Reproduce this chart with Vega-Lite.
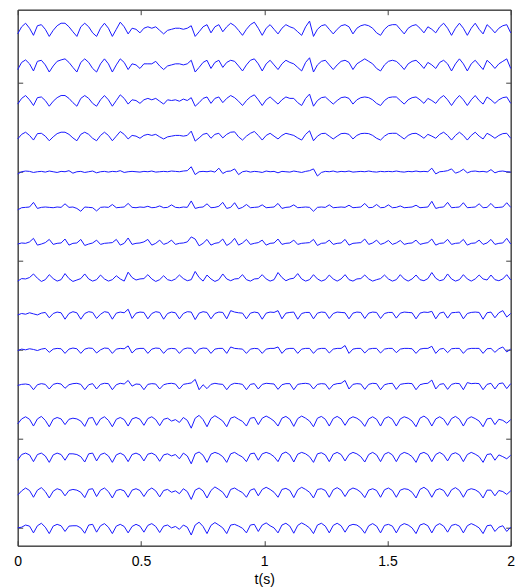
{"$schema":"https://vega.github.io/schema/vega-lite/v6.json","width":493,"height":536,"autosize":{"type":"none"},"padding":{"left":17.7,"top":9.7,"right":4.3,"bottom":42.3},
"config":{"view":{"stroke":"#404040","strokeWidth":1},"axis":{"domainColor":"#404040","tickColor":"#404040","grid":false,"labelFont":"Liberation Sans Narrow, Liberation Sans, sans-serif","titleFont":"Liberation Sans Narrow, Liberation Sans, sans-serif","labelFontSize":14,"titleFontSize":14,"labelColor":"#000","titleColor":"#000","titleFontWeight":"normal"}},
"data":{"values":[
{"t":0,"a":1437,"b":1337,"c":1240,"d":1142,"e":1044,"f":943,"g":847,"h":743,"i":648,"j":548,"k":450,"l":342,"m":240,"n":142,"o":50},
{"t":0.016,"a":1457,"b":1357,"c":1256,"d":1155,"e":1050,"f":949,"g":850,"h":750,"i":652,"j":552,"k":453,"l":356,"m":256,"n":154,"o":52},
{"t":0.032,"a":1467,"b":1364,"c":1264,"d":1161,"e":1052,"f":950,"g":849,"h":749,"i":650,"j":550,"k":454,"l":362,"m":260,"n":162,"o":58},
{"t":0.048,"a":1453,"b":1353,"c":1252,"d":1152,"e":1051,"f":951,"g":853,"h":753,"i":654,"j":553,"k":452,"l":355,"m":255,"n":155,"o":55},
{"t":0.064,"a":1433,"b":1333,"c":1236,"d":1139,"e":1048,"f":964,"g":863,"h":763,"i":651,"j":551,"k":438,"l":336,"m":236,"n":136,"o":36},
{"t":0.08,"a":1460,"b":1360,"c":1258,"d":1157,"e":1050,"f":947,"g":844,"h":751,"i":648,"j":548,"k":452,"l":356,"m":256,"n":156,"o":56},
{"t":0.096,"a":1463,"b":1363,"c":1260,"d":1158,"e":1051,"f":950,"g":847,"h":742,"i":653,"j":552,"k":455,"l":363,"m":260,"n":163,"o":63},
{"t":0.112,"a":1450,"b":1350,"c":1250,"d":1150,"e":1049,"f":951,"g":851,"h":747,"i":655,"j":554,"k":453,"l":352,"m":252,"n":152,"o":52},
{"t":0.128,"a":1430,"b":1330,"c":1234,"d":1137,"e":1052,"f":950,"g":860,"h":761,"i":640,"j":543,"k":440,"l":334,"m":234,"n":134,"o":34},
{"t":0.144,"a":1447,"b":1347,"c":1248,"d":1148,"e":1050,"f":949,"g":846,"h":750,"i":652,"j":552,"k":453,"l":355,"m":255,"n":153,"o":55},
{"t":0.16,"a":1460,"b":1360,"c":1258,"d":1157,"e":1048,"f":951,"g":849,"h":743,"i":656,"j":554,"k":456,"l":360,"m":260,"n":160,"o":60},
{"t":0.176,"a":1467,"b":1364,"c":1264,"d":1161,"e":1051,"f":950,"g":850,"h":747,"i":654,"j":553,"k":454,"l":356,"m":256,"n":156,"o":56},
{"t":0.192,"a":1467,"b":1367,"c":1264,"d":1161,"e":1050,"f":960,"g":861,"h":764,"i":636,"j":540,"k":442,"l":340,"m":240,"n":140,"o":40},
{"t":0.208,"a":1457,"b":1357,"c":1256,"d":1155,"e":1053,"f":950,"g":844,"h":750,"i":652,"j":552,"k":452,"l":355,"m":258,"n":155,"o":55},
{"t":0.224,"a":1443,"b":1343,"c":1244,"d":1145,"e":1046,"f":951,"g":849,"h":742,"i":657,"j":555,"k":455,"l":358,"m":258,"n":158,"o":56},
{"t":0.24,"a":1430,"b":1330,"c":1234,"d":1137,"e":1050,"f":947,"g":850,"h":746,"i":654,"j":553,"k":456,"l":356,"m":256,"n":156,"o":56},
{"t":0.256,"a":1457,"b":1357,"c":1256,"d":1155,"e":1051,"f":939,"g":860,"h":750,"i":636,"j":540,"k":453,"l":350,"m":250,"n":150,"o":50},
{"t":0.272,"a":1467,"b":1367,"c":1264,"d":1161,"e":1048,"f":951,"g":843,"h":763,"i":652,"j":552,"k":438,"l":335,"m":235,"n":135,"o":35},
{"t":0.288,"a":1457,"b":1357,"c":1256,"d":1155,"e":1050,"f":950,"g":847,"h":749,"i":657,"j":555,"k":452,"l":358,"m":258,"n":158,"o":58},
{"t":0.304,"a":1440,"b":1340,"c":1242,"d":1144,"e":1052,"f":949,"g":850,"h":743,"i":655,"j":554,"k":455,"l":360,"m":260,"n":160,"o":60},
{"t":0.32,"a":1430,"b":1330,"c":1234,"d":1137,"e":1047,"f":940,"g":858,"h":747,"i":638,"j":541,"k":440,"l":338,"m":238,"n":138,"o":38},
{"t":0.336,"a":1453,"b":1353,"c":1252,"d":1152,"e":1050,"f":950,"g":846,"h":760,"i":650,"j":550,"k":453,"l":356,"m":256,"n":156,"o":56},
{"t":0.352,"a":1467,"b":1367,"c":1264,"d":1161,"e":1051,"f":951,"g":849,"h":749,"i":657,"j":555,"k":456,"l":362,"m":260,"n":162,"o":62},
{"t":0.368,"a":1453,"b":1353,"c":1252,"d":1152,"e":1049,"f":950,"g":850,"h":743,"i":655,"j":554,"k":455,"l":352,"m":252,"n":152,"o":52},
{"t":0.384,"a":1430,"b":1330,"c":1234,"d":1137,"e":1051,"f":958,"g":851,"h":747,"i":636,"j":540,"k":438,"l":334,"m":234,"n":134,"o":34},
{"t":0.4,"a":1450,"b":1350,"c":1250,"d":1150,"e":1050,"f":949,"g":860,"h":758,"i":653,"j":552,"k":452,"l":355,"m":255,"n":155,"o":55},
{"t":0.416,"a":1470,"b":1367,"c":1266,"d":1163,"e":1053,"f":950,"g":844,"h":749,"i":656,"j":554,"k":456,"l":360,"m":260,"n":158,"o":60},
{"t":0.432,"a":1457,"b":1357,"c":1256,"d":1155,"e":1048,"f":951,"g":849,"h":743,"i":654,"j":553,"k":454,"l":354,"m":254,"n":154,"o":54},
{"t":0.448,"a":1437,"b":1337,"c":1240,"d":1142,"e":1050,"f":961,"g":864,"h":768,"i":664,"j":561,"k":464,"l":336,"m":236,"n":136,"o":36},
{"t":0.464,"a":1453,"b":1353,"c":1252,"d":1152,"e":1051,"f":950,"g":846,"h":753,"i":638,"j":541,"k":448,"l":356,"m":256,"n":156,"o":54},
{"t":0.48,"a":1450,"b":1350,"c":1250,"d":1150,"e":1050,"f":949,"g":849,"h":746,"i":653,"j":552,"k":454,"l":360,"m":260,"n":160,"o":60},
{"t":0.496,"a":1440,"b":1340,"c":1242,"d":1144,"e":1049,"f":951,"g":850,"h":749,"i":656,"j":554,"k":453,"l":355,"m":255,"n":155,"o":55},
{"t":0.512,"a":1453,"b":1353,"c":1252,"d":1152,"e":1051,"f":950,"g":853,"h":750,"i":655,"j":554,"k":438,"l":338,"m":238,"n":138,"o":38},
{"t":0.528,"a":1457,"b":1353,"c":1256,"d":1155,"e":1050,"f":953,"g":860,"h":761,"i":637,"j":540,"k":453,"l":357,"m":257,"n":155,"o":57},
{"t":0.544,"a":1453,"b":1353,"c":1252,"d":1152,"e":1052,"f":949,"g":844,"h":749,"i":652,"j":552,"k":455,"l":362,"m":260,"n":162,"o":62},
{"t":0.56,"a":1457,"b":1360,"c":1256,"d":1155,"e":1049,"f":950,"g":849,"h":742,"i":657,"j":555,"k":454,"l":354,"m":254,"n":154,"o":54},
{"t":0.576,"a":1447,"b":1347,"c":1248,"d":1148,"e":1050,"f":954,"g":858,"h":747,"i":655,"j":554,"k":440,"l":337,"m":237,"n":137,"o":37},
{"t":0.592,"a":1437,"b":1337,"c":1240,"d":1142,"e":1051,"f":949,"g":846,"h":758,"i":636,"j":540,"k":452,"l":355,"m":255,"n":155,"o":55},
{"t":0.608,"a":1447,"b":1347,"c":1252,"d":1148,"e":1050,"f":950,"g":850,"h":747,"i":652,"j":552,"k":455,"l":358,"m":258,"n":158,"o":58},
{"t":0.624,"a":1450,"b":1350,"c":1250,"d":1150,"e":1052,"f":957,"g":858,"h":744,"i":656,"j":554,"k":456,"l":350,"m":252,"n":150,"o":50},
{"t":0.64,"a":1453,"b":1353,"c":1252,"d":1152,"e":1051,"f":950,"g":846,"h":749,"i":654,"j":553,"k":454,"l":354,"m":256,"n":154,"o":54},
{"t":0.656,"a":1453,"b":1353,"c":1248,"d":1152,"e":1050,"f":949,"g":849,"h":760,"i":637,"j":540,"k":440,"l":346,"m":244,"n":146,"o":46},
{"t":0.672,"a":1450,"b":1350,"c":1254,"d":1150,"e":1052,"f":951,"g":850,"h":750,"i":652,"j":552,"k":453,"l":360,"m":260,"n":160,"o":58},
{"t":0.688,"a":1453,"b":1353,"c":1250,"d":1152,"e":1053,"f":950,"g":853,"h":744,"i":657,"j":555,"k":455,"l":352,"m":252,"n":152,"o":52},
{"t":0.704,"a":1460,"b":1363,"c":1258,"d":1164,"e":1064,"f":968,"g":867,"h":747,"i":656,"j":554,"k":457,"l":330,"m":230,"n":130,"o":30},
{"t":0.72,"a":1430,"b":1330,"c":1234,"d":1136,"e":1042,"f":947,"g":861,"h":770,"i":635,"j":539,"k":467,"l":358,"m":258,"n":156,"o":58},
{"t":0.736,"a":1443,"b":1343,"c":1244,"d":1145,"e":1050,"f":950,"g":842,"h":753,"i":653,"j":552,"k":438,"l":366,"m":263,"n":162,"o":66},
{"t":0.752,"a":1457,"b":1357,"c":1256,"d":1155,"e":1051,"f":951,"g":849,"h":743,"i":657,"j":555,"k":452,"l":354,"m":254,"n":154,"o":54},
{"t":0.768,"a":1463,"b":1363,"c":1260,"d":1158,"e":1050,"f":960,"g":860,"h":760,"i":655,"j":554,"k":441,"l":334,"m":234,"n":134,"o":34},
{"t":0.784,"a":1440,"b":1340,"c":1242,"d":1144,"e":1052,"f":949,"g":844,"h":749,"i":637,"j":540,"k":453,"l":357,"m":257,"n":155,"o":57},
{"t":0.8,"a":1457,"b":1357,"c":1256,"d":1155,"e":1049,"f":950,"g":849,"h":742,"i":652,"j":552,"k":456,"l":365,"m":262,"n":165,"o":65},
{"t":0.816,"a":1463,"b":1363,"c":1260,"d":1158,"e":1060,"f":953,"g":851,"h":747,"i":656,"j":554,"k":454,"l":358,"m":258,"n":158,"o":58},
{"t":0.832,"a":1443,"b":1343,"c":1244,"d":1145,"e":1045,"f":964,"g":861,"h":763,"i":655,"j":554,"k":453,"l":350,"m":250,"n":150,"o":50},
{"t":0.848,"a":1457,"b":1357,"c":1256,"d":1155,"e":1051,"f":947,"g":843,"h":749,"i":637,"j":540,"k":438,"l":334,"m":234,"n":134,"o":34},
{"t":0.864,"a":1467,"b":1363,"c":1264,"d":1161,"e":1052,"f":950,"g":850,"h":744,"i":660,"j":558,"k":452,"l":358,"m":258,"n":158,"o":58},
{"t":0.88,"a":1460,"b":1360,"c":1258,"d":1162,"e":1058,"f":963,"g":863,"h":749,"i":656,"j":554,"k":456,"l":362,"m":262,"n":162,"o":60},
{"t":0.896,"a":1447,"b":1347,"c":1248,"d":1148,"e":1042,"f":946,"g":844,"h":750,"i":654,"j":553,"k":455,"l":355,"m":255,"n":155,"o":55},
{"t":0.912,"a":1433,"b":1333,"c":1236,"d":1139,"e":1050,"f":950,"g":850,"h":761,"i":653,"j":552,"k":453,"l":349,"m":249,"n":149,"o":49},
{"t":0.928,"a":1450,"b":1350,"c":1250,"d":1150,"e":1052,"f":958,"g":860,"h":747,"i":637,"j":540,"k":438,"l":336,"m":236,"n":136,"o":36},
{"t":0.944,"a":1463,"b":1363,"c":1260,"d":1158,"e":1049,"f":949,"g":846,"h":743,"i":653,"j":552,"k":453,"l":358,"m":258,"n":156,"o":58},
{"t":0.96,"a":1470,"b":1367,"c":1266,"d":1163,"e":1051,"f":950,"g":849,"h":749,"i":656,"j":554,"k":455,"l":360,"m":260,"n":160,"o":60},
{"t":0.976,"a":1453,"b":1353,"c":1252,"d":1152,"e":1050,"f":951,"g":851,"h":750,"i":654,"j":553,"k":440,"l":340,"m":240,"n":140,"o":40},
{"t":0.992,"a":1433,"b":1333,"c":1236,"d":1139,"e":1048,"f":957,"g":858,"h":761,"i":636,"j":540,"k":453,"l":358,"m":258,"n":158,"o":58},
{"t":1.008,"a":1453,"b":1353,"c":1252,"d":1152,"e":1052,"f":949,"g":844,"h":749,"i":653,"j":552,"k":456,"l":364,"m":262,"n":164,"o":64},
{"t":1.024,"a":1463,"b":1363,"c":1260,"d":1158,"e":1050,"f":950,"g":849,"h":743,"i":656,"j":554,"k":455,"l":358,"m":258,"n":158,"o":56},
{"t":1.04,"a":1450,"b":1350,"c":1250,"d":1150,"e":1051,"f":951,"g":850,"h":747,"i":655,"j":554,"k":454,"l":350,"m":250,"n":150,"o":50},
{"t":1.056,"a":1437,"b":1337,"c":1240,"d":1142,"e":1047,"f":961,"g":861,"h":767,"i":660,"j":558,"k":439,"l":336,"m":236,"n":136,"o":36},
{"t":1.072,"a":1453,"b":1353,"c":1252,"d":1152,"e":1051,"f":947,"g":846,"h":753,"i":637,"j":540,"k":452,"l":358,"m":258,"n":158,"o":58},
{"t":1.088,"a":1463,"b":1363,"c":1260,"d":1158,"e":1050,"f":950,"g":849,"h":744,"i":653,"j":552,"k":455,"l":363,"m":263,"n":161,"o":63},
{"t":1.104,"a":1457,"b":1357,"c":1256,"d":1155,"e":1049,"f":951,"g":850,"h":749,"i":655,"j":554,"k":455,"l":355,"m":255,"n":155,"o":55},
{"t":1.12,"a":1453,"b":1353,"c":1256,"d":1152,"e":1052,"f":957,"g":858,"h":751,"i":656,"j":554,"k":438,"l":335,"m":235,"n":135,"o":35},
{"t":1.136,"a":1443,"b":1343,"c":1244,"d":1145,"e":1050,"f":949,"g":846,"h":764,"i":636,"j":540,"k":453,"l":357,"m":257,"n":157,"o":57},
{"t":1.152,"a":1433,"b":1333,"c":1236,"d":1139,"e":1048,"f":950,"g":849,"h":749,"i":652,"j":552,"k":455,"l":364,"m":262,"n":164,"o":64},
{"t":1.168,"a":1457,"b":1357,"c":1256,"d":1155,"e":1051,"f":951,"g":850,"h":743,"i":655,"j":554,"k":456,"l":358,"m":258,"n":158,"o":58},
{"t":1.184,"a":1473,"b":1370,"c":1268,"d":1165,"e":1053,"f":950,"g":851,"h":747,"i":655,"j":554,"k":454,"l":350,"m":250,"n":150,"o":50},
{"t":1.2,"a":1430,"b":1330,"c":1234,"d":1137,"e":1058,"f":939,"g":860,"h":761,"i":637,"j":540,"k":440,"l":334,"m":234,"n":134,"o":34},
{"t":1.216,"a":1450,"b":1350,"c":1250,"d":1150,"e":1038,"f":950,"g":843,"h":749,"i":653,"j":552,"k":453,"l":358,"m":258,"n":158,"o":58},
{"t":1.232,"a":1460,"b":1360,"c":1258,"d":1157,"e":1048,"f":951,"g":849,"h":743,"i":656,"j":554,"k":455,"l":363,"m":261,"n":160,"o":63},
{"t":1.248,"a":1463,"b":1363,"c":1260,"d":1158,"e":1051,"f":950,"g":850,"h":747,"i":655,"j":554,"k":454,"l":355,"m":255,"n":155,"o":55},
{"t":1.264,"a":1450,"b":1350,"c":1250,"d":1150,"e":1050,"f":957,"g":858,"h":760,"i":638,"j":541,"k":439,"l":336,"m":236,"n":136,"o":36},
{"t":1.28,"a":1437,"b":1337,"c":1240,"d":1142,"e":1052,"f":949,"g":846,"h":749,"i":652,"j":552,"k":452,"l":357,"m":257,"n":157,"o":57},
{"t":1.296,"a":1450,"b":1350,"c":1250,"d":1150,"e":1049,"f":950,"g":849,"h":743,"i":656,"j":554,"k":455,"l":363,"m":262,"n":163,"o":63},
{"t":1.312,"a":1460,"b":1360,"c":1258,"d":1157,"e":1051,"f":951,"g":850,"h":749,"i":655,"j":554,"k":456,"l":356,"m":256,"n":156,"o":56},
{"t":1.328,"a":1463,"b":1363,"c":1260,"d":1158,"e":1050,"f":950,"g":860,"h":761,"i":654,"j":562,"k":464,"l":338,"m":238,"n":138,"o":38},
{"t":1.344,"a":1457,"b":1357,"c":1256,"d":1155,"e":1052,"f":956,"g":844,"h":747,"i":637,"j":540,"k":440,"l":356,"m":256,"n":156,"o":56},
{"t":1.36,"a":1437,"b":1337,"c":1240,"d":1142,"e":1049,"f":949,"g":849,"h":743,"i":653,"j":552,"k":453,"l":362,"m":262,"n":162,"o":60},
{"t":1.376,"a":1453,"b":1353,"c":1252,"d":1152,"e":1050,"f":950,"g":850,"h":749,"i":656,"j":554,"k":455,"l":358,"m":258,"n":158,"o":58},
{"t":1.392,"a":1460,"b":1360,"c":1258,"d":1157,"e":1051,"f":951,"g":851,"h":750,"i":655,"j":554,"k":454,"l":350,"m":250,"n":150,"o":50},
{"t":1.408,"a":1463,"b":1367,"c":1260,"d":1158,"e":1050,"f":961,"g":861,"h":760,"i":638,"j":541,"k":439,"l":335,"m":235,"n":135,"o":35},
{"t":1.424,"a":1460,"b":1360,"c":1258,"d":1157,"e":1052,"f":949,"g":846,"h":749,"i":653,"j":552,"k":453,"l":356,"m":256,"n":156,"o":56},
{"t":1.44,"a":1453,"b":1353,"c":1252,"d":1152,"e":1050,"f":950,"g":850,"h":743,"i":656,"j":554,"k":456,"l":362,"m":262,"n":160,"o":62},
{"t":1.456,"a":1440,"b":1340,"c":1242,"d":1144,"e":1049,"f":958,"g":858,"h":747,"i":655,"j":554,"k":455,"l":355,"m":255,"n":155,"o":55},
{"t":1.472,"a":1433,"b":1333,"c":1236,"d":1139,"e":1051,"f":949,"g":846,"h":750,"i":638,"j":541,"k":438,"l":336,"m":236,"n":136,"o":36},
{"t":1.488,"a":1450,"b":1350,"c":1250,"d":1150,"e":1050,"f":950,"g":850,"h":760,"i":652,"j":552,"k":452,"l":357,"m":257,"n":157,"o":57},
{"t":1.504,"a":1460,"b":1360,"c":1258,"d":1157,"e":1051,"f":957,"g":857,"h":749,"i":655,"j":554,"k":455,"l":362,"m":262,"n":162,"o":60},
{"t":1.52,"a":1463,"b":1363,"c":1260,"d":1158,"e":1050,"f":949,"g":846,"h":743,"i":655,"j":554,"k":456,"l":355,"m":255,"n":155,"o":55},
{"t":1.536,"a":1463,"b":1360,"c":1260,"d":1158,"e":1052,"f":950,"g":850,"h":747,"i":639,"j":542,"k":439,"l":336,"m":236,"n":136,"o":36},
{"t":1.552,"a":1450,"b":1350,"c":1250,"d":1150,"e":1050,"f":954,"g":857,"h":761,"i":653,"j":552,"k":453,"l":356,"m":256,"n":156,"o":56},
{"t":1.568,"a":1437,"b":1337,"c":1240,"d":1142,"e":1049,"f":949,"g":846,"h":749,"i":656,"j":554,"k":455,"l":362,"m":262,"n":160,"o":62},
{"t":1.584,"a":1453,"b":1353,"c":1252,"d":1152,"e":1051,"f":950,"g":849,"h":743,"i":655,"j":554,"k":456,"l":358,"m":258,"n":158,"o":58},
{"t":1.6,"a":1460,"b":1360,"c":1258,"d":1157,"e":1050,"f":951,"g":850,"h":749,"i":654,"j":553,"k":455,"l":350,"m":250,"n":150,"o":50},
{"t":1.616,"a":1463,"b":1363,"c":1260,"d":1158,"e":1052,"f":956,"g":858,"h":760,"i":637,"j":540,"k":438,"l":334,"m":234,"n":134,"o":34},
{"t":1.632,"a":1453,"b":1353,"c":1252,"d":1152,"e":1050,"f":949,"g":846,"h":747,"i":653,"j":552,"k":452,"l":358,"m":258,"n":158,"o":58},
{"t":1.648,"a":1440,"b":1340,"c":1242,"d":1144,"e":1051,"f":950,"g":849,"h":744,"i":656,"j":554,"k":455,"l":364,"m":262,"n":164,"o":62},
{"t":1.664,"a":1457,"b":1357,"c":1256,"d":1155,"e":1050,"f":951,"g":851,"h":750,"i":655,"j":554,"k":456,"l":356,"m":256,"n":156,"o":56},
{"t":1.68,"a":1450,"b":1350,"c":1250,"d":1150,"e":1060,"f":967,"g":861,"h":767,"i":658,"j":560,"k":465,"l":336,"m":236,"n":136,"o":36},
{"t":1.696,"a":1440,"b":1340,"c":1242,"d":1144,"e":1044,"f":947,"g":844,"h":751,"i":637,"j":540,"k":440,"l":356,"m":256,"n":156,"o":56},
{"t":1.712,"a":1457,"b":1357,"c":1256,"d":1155,"e":1050,"f":950,"g":849,"h":744,"i":653,"j":552,"k":453,"l":362,"m":262,"n":160,"o":62},
{"t":1.728,"a":1467,"b":1363,"c":1264,"d":1161,"e":1051,"f":951,"g":850,"h":747,"i":656,"j":554,"k":455,"l":355,"m":255,"n":155,"o":55},
{"t":1.744,"a":1453,"b":1353,"c":1252,"d":1152,"e":1053,"f":964,"g":860,"h":763,"i":639,"j":542,"k":439,"l":338,"m":238,"n":138,"o":38},
{"t":1.76,"a":1433,"b":1333,"c":1236,"d":1139,"e":1058,"f":949,"g":846,"h":749,"i":654,"j":553,"k":453,"l":357,"m":257,"n":157,"o":57},
{"t":1.776,"a":1453,"b":1353,"c":1252,"d":1152,"e":1046,"f":950,"g":849,"h":743,"i":655,"j":554,"k":456,"l":363,"m":261,"n":163,"o":60},
{"t":1.792,"a":1467,"b":1367,"c":1264,"d":1161,"e":1050,"f":951,"g":850,"h":747,"i":656,"j":554,"k":455,"l":355,"m":255,"n":155,"o":55},
{"t":1.808,"a":1453,"b":1353,"c":1252,"d":1152,"e":1057,"f":963,"g":860,"h":761,"i":637,"j":540,"k":438,"l":336,"m":236,"n":136,"o":36},
{"t":1.824,"a":1433,"b":1333,"c":1236,"d":1139,"e":1047,"f":949,"g":844,"h":749,"i":652,"j":552,"k":458,"l":356,"m":256,"n":156,"o":56},
{"t":1.84,"a":1453,"b":1353,"c":1252,"d":1152,"e":1051,"f":950,"g":849,"h":743,"i":655,"j":554,"k":455,"l":362,"m":262,"n":160,"o":62},
{"t":1.856,"a":1467,"b":1363,"c":1264,"d":1161,"e":1052,"f":951,"g":850,"h":749,"i":656,"j":554,"k":456,"l":357,"m":257,"n":157,"o":57},
{"t":1.872,"a":1450,"b":1350,"c":1250,"d":1150,"e":1050,"f":960,"g":858,"h":760,"i":655,"j":554,"k":455,"l":350,"m":250,"n":150,"o":50},
{"t":1.888,"a":1437,"b":1337,"c":1240,"d":1142,"e":1051,"f":949,"g":846,"h":749,"i":636,"j":540,"k":438,"l":334,"m":234,"n":134,"o":34},
{"t":1.904,"a":1463,"b":1363,"c":1260,"d":1158,"e":1049,"f":950,"g":850,"h":746,"i":654,"j":553,"k":453,"l":356,"m":256,"n":156,"o":56},
{"t":1.92,"a":1453,"b":1353,"c":1252,"d":1152,"e":1056,"f":961,"g":860,"h":760,"i":656,"j":554,"k":456,"l":358,"m":258,"n":156,"o":58},
{"t":1.936,"a":1440,"b":1340,"c":1242,"d":1144,"e":1047,"f":949,"g":846,"h":747,"i":640,"j":543,"k":440,"l":340,"m":240,"n":140,"o":40},
{"t":1.952,"a":1453,"b":1353,"c":1252,"d":1152,"e":1051,"f":950,"g":849,"h":744,"i":654,"j":553,"k":455,"l":355,"m":255,"n":155,"o":52},
{"t":1.968,"a":1460,"b":1360,"c":1258,"d":1157,"e":1052,"f":951,"g":850,"h":749,"i":660,"j":558,"k":457,"l":352,"m":250,"n":152,"o":56},
{"t":1.984,"a":1463,"b":1367,"c":1260,"d":1158,"e":1050,"f":963,"g":863,"h":761,"i":642,"j":544,"k":441,"l":344,"m":244,"n":144,"o":40},
{"t":2,"a":1440,"b":1340,"c":1242,"d":1144,"e":1049,"f":950,"g":847,"h":746,"i":652,"j":552,"k":455,"l":354,"m":254,"n":154,"o":52}
]},
"transform":[{"fold":["a","b","c","d","e","f","g","h","i","j","k","l","m","n","o"],"as":["ch","v"]}],
"layer":[
{"mark":{"type":"line","color":"#1a1aff","strokeWidth":1},
"encoding":{
"x":{"field":"t","type":"quantitative","scale":{"domain":[0,2],"nice":false,"zero":false},"axis":{"orient":"bottom","values":[0,0.5,1,1.5,2],"format":"~g","tickSize":-5,"labelPadding":14,"labelFlush":false,"title":"t(s)","titlePadding":4}},
"y":{"field":"v","type":"quantitative","scale":{"domain":[0,1505],"nice":false,"zero":false},"axis":{"orient":"left","values":[50,300,550,800,1050,1300],"labels":false,"tickSize":-5,"title":null}},
"detail":{"field":"ch","type":"nominal"}}},
{"mark":{"type":"line","strokeOpacity":0},
"encoding":{
"x":{"field":"t","type":"quantitative","axis":{"orient":"top","values":[0,0.5,1,1.5,2],"labels":false,"tickSize":-5,"title":null}},
"y":{"field":"v","type":"quantitative","axis":{"orient":"right","values":[50,300,550,800,1050,1300],"labels":false,"tickSize":-5,"title":null}},
"detail":{"field":"ch","type":"nominal"}}}
],
"resolve":{"axis":{"x":"independent","y":"independent"}}
}
